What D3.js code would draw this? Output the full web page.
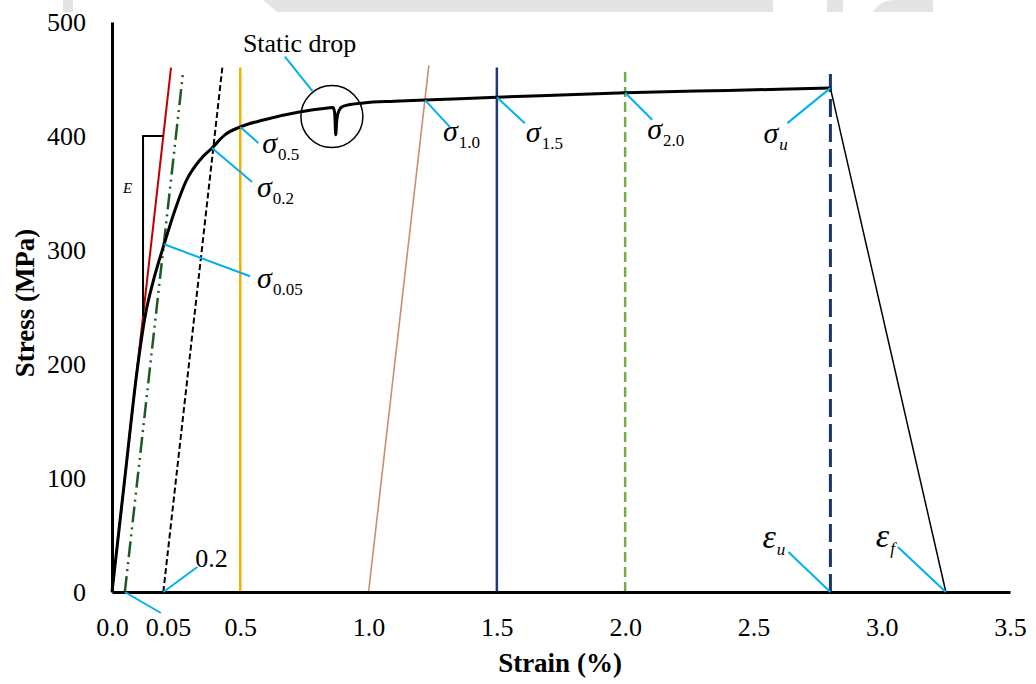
<!DOCTYPE html>
<html>
<head>
<meta charset="utf-8">
<script src="https://cdn.jsdelivr.net/npm/d3@7"></script>
<style>
  body { margin: 0; background: #fff; }
  text { font-family: "Liberation Serif", "Times New Roman", serif; fill: #000; }
</style>
</head>
<body>
<div id="chart-area"></div>
<script>
// ---- data ----
var xTickValues = [0, 0.218, 0.5, 1.0, 1.5, 2.0, 2.5, 3.0, 3.5];
var xTickLabels = ["0.0", "0.05", "0.5", "1.0", "1.5", "2.0", "2.5", "3.0", "3.5"];
var yTickValues = [0, 100, 200, 300, 400, 500];

// measured stress-strain curve (strain %, stress MPa), incl. the static drop
var curveStrain = [0, 0.05, 0.1, 0.13, 0.16, 0.203, 0.25, 0.29, 0.343, 0.39, 0.44, 0.5, 0.59, 0.73, 0.84, 0.862,
                   0.868, 0.872, 0.876, 0.884, 0.9, 0.98, 1.1, 1.22, 1.5, 1.75, 2.0, 2.4, 2.8];
var curveStress = [0, 100, 198, 243, 272, 305, 338, 361, 379, 389.5, 401, 408, 414, 421, 424.5, 425,
                   420, 401, 414, 422, 426, 429, 430.5, 431.5, 434, 436, 438, 440, 442];

// after ultimate: straight drop to fracture
var fractureStrain = [2.8, 3.25];
var fractureStress = [442, 0];

// inclined lines: elastic modulus and offset lines [strain0, stress0, strain1, stress1]
var slopeNames = ["E", "off005", "off02", "off10"];
var slopeLines = [[0, 0, 0.23, 460], [0.05, 0, 0.277, 456], [0.2, 0, 0.43, 460], [1.0, 0, 1.235, 462]];

// vertical strain markers
var vertNames = ["v05", "v15", "v20", "vu"];
var vertStrain = [0.5, 1.5, 2.0, 2.8];
var vertTop = [460, 460, 460, 460];

// E triangle corners
var eTriangle = [[0.121, 242], [0.121, 400], [0.2, 400]];

// annotated points
var annoMain = ["σ", "σ", "σ", "σ", "σ", "σ", "σ", "ε", "ε", "0.2", ""];
var annoSub = ["0.5", "0.2", "0.05", "1.0", "1.5", "2.0", "u", "u", "f", "", ""];
var annoStrain = [0.5, 0.39, 0.203, 1.22, 1.5, 2.0, 2.8, 2.8, 3.25, 0.2, 0.05];
var annoStress = [408, 389.5, 305, 431.5, 434, 438, 442, 0, 0, 0, 0];

// static drop marker
var dropCenter = [0.857, 417];

// ---- layout ----
var total_width = 1036, total_height = 684;
var svg = d3.select("#chart-area").append("svg")
  .attr("width", total_width).attr("height", total_height)
  .style("background", "#fff");

// faint page watermark at the top edge
var wm = svg.append("g").attr("fill", "#e4e4e4");
wm.append("polygon").attr("points", "263,0 773,0 773,12 277,12");
wm.append("rect").attr("x", 63).attr("y", 0).attr("width", 10).attr("height", 12);
wm.append("rect").attr("x", 827).attr("y", 0).attr("width", 16).attr("height", 12);
wm.append("path").attr("d", "M873,12 Q880,0 895,0 L933,0 L933,12 Z");

var x = d3.scaleLinear().domain([0, 3.5]).range([112, 1010]);
var y = d3.scaleLinear().domain([0, 500]).range([592, 22]);

var lineStyle = {
  E: { color: "#c00000", width: 2, dash: null },
  off005: { color: "#1e5b23", width: 2.5, dash: "16,5,2,5,2,5" },
  off02: { color: "#000", width: 2, dash: "6,3" },
  off10: { color: "#c8906c", width: 1.6, dash: null },
  v05: { color: "#efb000", width: 2.5, dash: null },
  v15: { color: "#1f3a7c", width: 2.5, dash: null },
  v20: { color: "#70ad47", width: 2.5, dash: "10,5" },
  vu: { color: "#1a3465", width: 3, dash: "18,7" }
};

var plot = svg.append("g");

// inclined lines
slopeLines.forEach(function (d, i) {
  var s = lineStyle[slopeNames[i]];
  plot.append("line")
    .attr("x1", x(d[0])).attr("y1", y(d[1]))
    .attr("x2", x(d[2])).attr("y2", y(d[3]))
    .attr("stroke", s.color).attr("stroke-width", s.width)
    .attr("stroke-dasharray", s.dash);
});

// vertical lines
vertStrain.forEach(function (v, i) {
  var s = lineStyle[vertNames[i]];
  plot.append("line")
    .attr("x1", x(v)).attr("y1", y(0))
    .attr("x2", x(v)).attr("y2", y(vertTop[i]))
    .attr("stroke", s.color).attr("stroke-width", s.width)
    .attr("stroke-dasharray", s.dash);
});

// E triangle
plot.append("path")
  .attr("d", d3.line().x(function (d) { return x(d[0]); }).y(function (d) { return y(d[1]); })(eTriangle))
  .attr("fill", "none").attr("stroke", "#000").attr("stroke-width", 2);
plot.append("text")
  .attr("x", x(eTriangle[0][0]) - 20).attr("y", y(350))
  .style("font-style", "italic").style("font-size", "15px")
  .text("E");

// fracture line
plot.append("line")
  .attr("x1", x(fractureStrain[0])).attr("y1", y(fractureStress[0]))
  .attr("x2", x(fractureStrain[1])).attr("y2", y(fractureStress[1]))
  .attr("stroke", "#000").attr("stroke-width", 1.5);

// main curve
var curvePts = curveStrain.map(function (s, i) { return [s, curveStress[i]]; });
plot.append("path")
  .attr("d", d3.line()
    .x(function (d) { return x(d[0]); })
    .y(function (d) { return y(d[1]); })
    .curve(d3.curveMonotoneX)(curvePts))
  .attr("fill", "none").attr("stroke", "#000").attr("stroke-width", 3)
  .attr("stroke-linejoin", "round");

// axes
var xAxis = d3.axisBottom(x).tickValues(xTickValues).tickSize(0).tickPadding(26)
  .tickFormat(function (d, i) { return xTickLabels[i]; });
var yAxis = d3.axisLeft(y).tickValues(yTickValues).tickSize(0).tickPadding(26)
  .tickFormat(d3.format("d"));

var gx = svg.append("g").attr("transform", "translate(0," + y(0) + ")").call(xAxis);
var gy = svg.append("g").attr("transform", "translate(" + x(0) + ",0)").call(yAxis);
[gx, gy].forEach(function (g) {
  g.select(".domain").attr("stroke", "#000").attr("stroke-width", 3);
  g.selectAll("text").attr("font-family", "Liberation Serif").attr("font-size", 26).attr("fill", "#000");
});

svg.append("text")
  .attr("x", 560).attr("y", 672)
  .style("text-anchor", "middle").style("font-weight", "bold").style("font-size", "27px")
  .text("Strain (%)");
svg.append("text")
  .attr("transform", "translate(34,303) rotate(-90)")
  .style("text-anchor", "middle").style("font-weight", "bold").style("font-size", "27px")
  .text("Stress (MPa)");

// annotations: leader end offset and text offset (pixels from the anchor)
var leaderOff = [[18, 16], [40, 34], [86, 32], [25, 27], [28, 26], [27, 27], [-43, 35], [-42, -40], [-48, -45], [34, -25], [36, 21]];
var textOff = [[22, 26], [45, 49], [93, 44], [18, 41], [29, 45], [22, 46], [-67, 55], [-68, -44], [-70, -45], [32, -25], [0, 0]];
var leaderColor = "#00b0f0";

var ann = svg.append("g");
annoStrain.forEach(function (s, i) {
  var ax = x(s), ay = y(annoStress[i]);
  ann.append("line")
    .attr("x1", ax).attr("y1", ay)
    .attr("x2", ax + leaderOff[i][0]).attr("y2", ay + leaderOff[i][1])
    .attr("stroke", leaderColor).attr("stroke-width", 2);
  if (!annoMain[i]) return;
  var t = ann.append("text")
    .attr("x", ax + textOff[i][0]).attr("y", ay + textOff[i][1]);
  if (annoMain[i] === "0.2") {
    t.style("font-size", "26px").text(annoMain[i]);
    return;
  }
  t.append("tspan")
    .style("font-style", "italic")
    .style("font-size", annoMain[i] === "ε" ? "34px" : "30px")
    .text(annoMain[i]);
  var sub = t.append("tspan")
    .attr("dy", 7).attr("dx", 1)
    .style("font-size", "17px")
    .text(annoSub[i]);
  if (annoSub[i] === "u" || annoSub[i] === "f") sub.style("font-style", "italic");
});

// static drop marker
var cx = x(dropCenter[0]), cy = y(dropCenter[1]);
ann.append("circle")
  .attr("cx", cx).attr("cy", cy).attr("r", 31)
  .attr("fill", "none").attr("stroke", "#000").attr("stroke-width", 1.5);
ann.append("line")
  .attr("x1", cx - 19).attr("y1", cy - 25)
  .attr("x2", cx - 47).attr("y2", cy - 60)
  .attr("stroke", leaderColor).attr("stroke-width", 2);
ann.append("text")
  .attr("x", cx - 89).attr("y", cy - 65)
  .style("font-size", "26px")
  .text("Static drop");
</script>
</body>
</html>
